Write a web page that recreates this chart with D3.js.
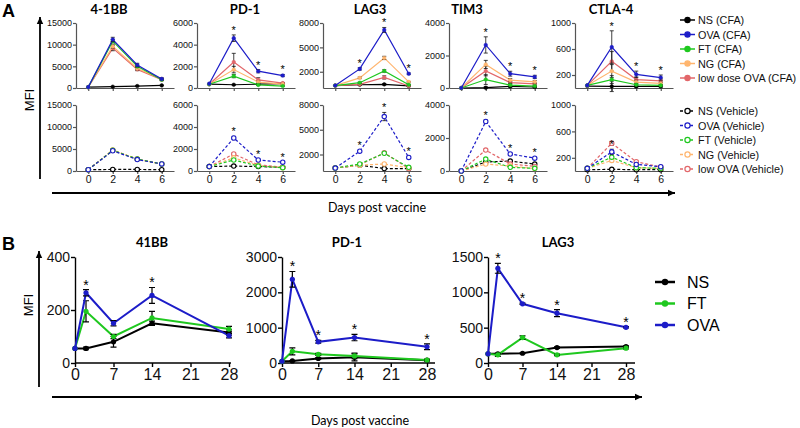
<!DOCTYPE html>
<html><head><meta charset="utf-8">
<script src="https://cdn.jsdelivr.net/npm/d3@7"></script>
<style>body{margin:0;background:#fff}svg{display:block}</style>
</head><body>
<svg id="c" width="800" height="428"></svg>
<script>
// ---------------- DATA ----------------
const daysA = [0, 2, 4, 6];
const seriesA = ["NS", "OVA", "FT", "NG", "low dose OVA"];
const legendCFA = ["NS (CFA)", "OVA (CFA)", "FT (CFA)", "NG (CFA)", "low dose OVA (CFA)"];
const legendVeh = ["NS (Vehicle)", "OVA (Vehicle)", "FT (Vehicle)", "NG (Vehicle)", "low OVA (Vehicle)"];
const titlesA = ["4-1BB", "PD-1", "LAG3", "TIM3", "CTLA-4"];
const ticks41BB = [0, 5000, 10000, 15000];
const ticksPD1 = [0, 2000, 4000, 6000];
const ticksLAG3 = [2000, 5000, 8000];
const ticksTIM3 = [0, 2000, 4000];
const ticksCTLA4 = [200, 600, 1000];

// values: [NS, OVA, FT, NG, low] x days
const cfa41BB = [[200,300,450,600],[200,11200,5300,2100],[200,10800,5000,1900],[200,9600,4500,2100],[200,9200,4300,1900]];
const cfa41BBErr = [[0,50,50,50],[0,500,400,200],[0,400,300,200],[0,400,300,200],[0,600,300,200]];
const veh41BB = [[300,350,350,300],[300,4600,2600,1600],[300,4700,2700,1600],[300,4800,2700,1600],[300,4700,2700,1600]];
const veh41BBErr = [[0,50,50,50],[0,200,150,100],[0,200,150,100],[0,200,150,100],[0,200,150,100]];

const cfaPD1 = [[350,300,350,400],[400,4600,1550,1150],[350,1100,280,180],[350,1700,550,350],[350,2400,750,450]];
const cfaPD1Err = [[0,30,30,30],[0,300,150,100],[0,150,50,30],[0,300,100,50],[0,800,200,50]];
const vehPD1 = [[400,450,400,350],[400,3000,1000,800],[400,1000,450,300],[400,1200,500,300],[400,1550,550,350]];
const vehPD1Err = [[0,30,30,30],[0,150,80,60],[0,80,40,30],[0,80,40,30],[0,80,40,30]];

const cfaLAG3 = [[300,400,450,250],[300,2350,7150,1750],[300,650,2100,400],[300,1250,3700,750],[300,450,1300,250]];
const cfaLAG3Err = [[0,50,80,30],[0,150,300,100],[0,80,150,50],[0,100,200,60],[0,60,200,40]];
const vehLAG3 = [[350,700,300,300],[350,2400,6600,1650],[350,850,2150,450],[350,700,850,400],[350,750,2200,300]];
const vehLAG3Err = [[0,60,40,30],[0,100,500,150],[0,80,120,50],[0,60,80,40],[0,60,120,40]];

const cfaTIM3 = [[0,20,100,60],[0,2650,880,680],[0,520,180,120],[0,1450,480,380],[0,1050,330,250]];
const cfaTIM3Err = [[0,60,50,40],[0,500,150,100],[0,300,100,50],[0,250,100,80],[0,300,100,60]];
const vehTIM3 = [[0,550,600,420],[0,3000,1030,780],[0,720,220,160],[0,420,300,150],[0,1270,420,280]];
const vehTIM3Err = [[0,40,40,30],[0,100,60,50],[0,60,40,30],[0,40,30,20],[0,60,40,30]];

const cfaCTLA4 = [[30,25,25,25],[40,630,210,160],[40,130,50,40],[40,260,90,70],[40,410,130,110]];
const cfaCTLA4Err = [[0,80,20,20],[0,250,50,40],[0,60,20,10],[0,100,30,20],[0,150,40,30]];
const vehCTLA4 = [[20,25,20,20],[40,290,100,65],[40,210,50,40],[40,160,50,40],[40,420,140,60]];
const vehCTLA4Err = [[0,10,10,10],[0,40,20,15],[0,20,10,10],[0,20,10,10],[0,30,20,10]];

const starsCfa = [[], [2,4,6], [2,4,6], [2,4,6], [2,4,6]];
const starsVeh = [[], [2,4,6], [2,4,6], [2,4,6], [2]];

// Panel B
const daysB = [0, 2, 7, 14, 28];
const seriesB = ["NS", "FT", "OVA"];
const titlesB = ["41BB", "PD-1", "LAG3"];
const ticksB41BB = [0, 200, 400];
const ticksBPD1 = [0, 1000, 2000, 3000];
const ticksBLAG3 = [0, 500, 1000, 1500];
const xTicksB = [0, 7, 14, 21, 28];
const b41BB = [[55,55,80,150,115],[55,195,100,170,128],[55,265,150,255,103]];
const b41BBErr = [[0,5,20,8,10],[0,40,8,25,10],[0,12,10,30,8]];
const bPD1 = [[50,60,130,160,80],[50,330,245,200,85],[50,2370,600,720,460]];
const bPD1Err = [[0,10,20,100,20],[0,100,30,80,20],[0,220,40,90,80]];
const bLAG3 = [[130,130,138,218,232],[130,115,360,115,210],[130,1340,838,705,505]];
const bLAG3Err = [[0,5,5,10,10],[0,20,25,10,10],[0,70,10,50,10]];
const starsB = [[2,14],[2,7,14,28],[2,7,14,28]];

// ---------------- STYLE / LAYOUT ----------------
const colorsA = ["#000000", "#1c1cc8", "#1fc81f", "#ffb56e", "#e2676a"];
const colorsB = ["#000000", "#1fc81f", "#1c1cc8"];
const ARIAL = "'Liberation Sans', Arial, sans-serif";
const CAL = "Lato, 'Open Sans', sans-serif";
const svg = d3.select("#c");

const panelsA = [
  {ticks: ticks41BB, cfa: cfa41BB, cfaE: cfa41BBErr, veh: veh41BB, vehE: veh41BBErr},
  {ticks: ticksPD1, cfa: cfaPD1, cfaE: cfaPD1Err, veh: vehPD1, vehE: vehPD1Err},
  {ticks: ticksLAG3, cfa: cfaLAG3, cfaE: cfaLAG3Err, veh: vehLAG3, vehE: vehLAG3Err},
  {ticks: ticksTIM3, cfa: cfaTIM3, cfaE: cfaTIM3Err, veh: vehTIM3, vehE: vehTIM3Err},
  {ticks: ticksCTLA4, cfa: cfaCTLA4, cfaE: cfaCTLA4Err, veh: vehCTLA4, vehE: vehCTLA4Err}
];
const x0A = [76, 197, 323, 449, 575];
const titleXA = [109, 245, 370, 467, 611];
const drawOrderA = [0, 4, 3, 2, 1];

function styleAxis(g, color, width) {
  g.select(".domain").attr("stroke", color).attr("stroke-width", width);
  g.selectAll(".tick line").attr("stroke", color).attr("stroke-width", width);
  g.selectAll(".tick text").attr("fill", "#111");
}

function drawA(p, i, row) {
  const x0 = x0A[i];
  const base = row === 0 ? 88 : 171, top = row === 0 ? 23 : 105;
  const x = d3.scaleLinear().domain([-1, 7]).range([x0, x0 + 98]);
  const y = d3.scaleLinear().domain([0, d3.max(p.ticks)]).range([base, top]);
  const vals = row === 0 ? p.cfa : p.veh;
  const errs = row === 0 ? p.cfaE : p.vehE;
  const g = svg.append("g");

  const ya = g.append("g").attr("transform", `translate(${x0},0)`)
    .call(d3.axisLeft(y).tickValues(p.ticks).tickSize(3).tickSizeOuter(0).tickPadding(1).tickFormat(d3.format("d")));
  ya.selectAll("text").attr("font-family", ARIAL).attr("font-size", 9);
  styleAxis(ya, "#555", 1.2);

  const xa = g.append("g").attr("transform", `translate(0,${base})`)
    .call(d3.axisBottom(x).tickValues(daysA).tickSize(3).tickSizeOuter(0).tickPadding(2));
  xa.selectAll("text").attr("font-family", ARIAL).attr("font-size", 10.5);
  if (row === 0) xa.selectAll("text").remove();
  styleAxis(xa, "#555", 1.2);

  const line = d3.line().x((d, j) => x(daysA[j])).y(d => y(d));
  drawOrderA.forEach(s => {
    const c = colorsA[s];
    g.append("path").datum(vals[s]).attr("d", line).attr("fill", "none")
      .attr("stroke", c).attr("stroke-width", 1.2)
      .attr("stroke-dasharray", row === 1 ? "3,2" : null);
    vals[s].forEach((v, j) => {
      const e = errs[s][j];
      if (e > 0) {
        const cx = x(daysA[j]);
        g.append("path").attr("d", `M${cx},${y(v - e)}V${y(v + e)}M${cx - 2},${y(v - e)}H${cx + 2}M${cx - 2},${y(v + e)}H${cx + 2}`)
          .attr("stroke", "#111").attr("stroke-width", 0.8).attr("fill", "none");
      }
    });
    g.selectAll(null).data(vals[s]).join("circle")
      .attr("cx", (d, j) => x(daysA[j])).attr("cy", d => y(d))
      .attr("r", row === 0 ? 1.8 : 2.2)
      .attr("fill", row === 0 ? c : "#fff").attr("stroke", c).attr("stroke-width", row === 0 ? 0.5 : 1.1);
  });

  const stars = row === 0 ? starsCfa[i] : starsVeh[i];
  stars.forEach(dd => {
    const j = daysA.indexOf(dd);
    const topV = vals[1][j] + errs[1][j];
    g.append("text").attr("x", x(dd)).attr("y", y(topV) - 7 + 6)
      .attr("text-anchor", "middle").attr("font-family", ARIAL).attr("font-size", 11).text("*");
  });

  if (row === 0) {
    svg.append("text").attr("x", titleXA[i]).attr("y", 14).attr("text-anchor", "middle")
      .attr("font-family", CAL).attr("font-weight", 700).attr("font-size", 13).text(titlesA[i]);
  }
}

panelsA.forEach((p, i) => { drawA(p, i, 0); drawA(p, i, 1); });

// Legends A
function legendA(labels, y0, dashed) {
  labels.forEach((t, k) => {
    const yy = y0 + k * 14.5;
    const c = colorsA[k];
    svg.append("line").attr("x1", 680).attr("x2", 695).attr("y1", yy).attr("y2", yy)
      .attr("stroke", c).attr("stroke-width", 1.5).attr("stroke-dasharray", dashed ? "3,2" : null);
    svg.append("circle").attr("cx", 687.5).attr("cy", yy).attr("r", 2.6)
      .attr("fill", dashed ? "#fff" : c).attr("stroke", c).attr("stroke-width", 1.2);
    svg.append("text").attr("x", 698).attr("y", yy + 4).attr("font-family", ARIAL).attr("font-size", 10.8)
      .attr("fill", "#111").text(t);
  });
}
legendA(legendCFA, 20, false);
legendA(legendVeh, 111, true);

// Arrows
function arrow(x1, y1, x2, y2) {
  svg.append("line").attr("x1", x1).attr("y1", y1).attr("x2", x2).attr("y2", y2)
    .attr("stroke", "#000").attr("stroke-width", 1.8);
  const ang = Math.atan2(y2 - y1, x2 - x1);
  const L = 7, W = 3.2;
  const bx = x2 - L * Math.cos(ang), by = y2 - L * Math.sin(ang);
  const px = -Math.sin(ang) * W, py = Math.cos(ang) * W;
  svg.append("path").attr("d", `M${x2},${y2}L${bx + px},${by + py}L${bx - px},${by - py}Z`).attr("fill", "#000");
}
arrow(40, 179, 40, 17);
arrow(52, 193, 675, 193);
arrow(39, 387, 39, 251);
arrow(52, 397, 642, 397);

// Labels
svg.append("text").attr("x", 2).attr("y", 17).attr("font-family", ARIAL).attr("font-weight", 700).attr("font-size", 18).text("A");
svg.append("text").attr("x", 2).attr("y", 250).attr("font-family", ARIAL).attr("font-weight", 700).attr("font-size", 18).text("B");
svg.append("text").attr("transform", "translate(34,100) rotate(-90)").attr("text-anchor", "middle")
  .attr("font-family", ARIAL).attr("font-size", 13).text("MFI");
svg.append("text").attr("transform", "translate(33,305) rotate(-90)").attr("text-anchor", "middle")
  .attr("font-family", ARIAL).attr("font-size", 13).text("MFI");
svg.append("text").attr("x", 377).attr("y", 212).attr("text-anchor", "middle")
  .attr("font-family", CAL).attr("font-size", 12.5).text("Days post vaccine");
svg.append("text").attr("x", 360).attr("y", 425).attr("text-anchor", "middle")
  .attr("font-family", CAL).attr("font-size", 12.5).text("Days post vaccine");

// ---------------- PANEL B ----------------
const panelsB = [
  {ticks: ticksB41BB, v: b41BB, e: b41BBErr},
  {ticks: ticksBPD1, v: bPD1, e: bPD1Err},
  {ticks: ticksBLAG3, v: bLAG3, e: bLAG3Err}
];
const xRangeB = [[75, 229], [282, 427], [488, 626]];
const axisEndB = [231, 435, 635];
const titleXB = [152, 347, 558];

panelsB.forEach((p, i) => {
  const [xa0, xa1] = xRangeB[i];
  const x = d3.scaleLinear().domain([0, 28]).range([xa0, xa1]);
  const y = d3.scaleLinear().domain([0, d3.max(p.ticks)]).range([363, 257]);
  const g = svg.append("g");
  const ya = g.append("g").attr("transform", `translate(${xa0},0)`)
    .call(d3.axisLeft(y).tickValues(p.ticks).tickSize(4).tickSizeOuter(0).tickPadding(1).tickFormat(d3.format("d")));
  ya.selectAll("text").attr("font-family", ARIAL).attr("font-size", 14);
  styleAxis(ya, "#000", 1.4);
  const xa = g.append("g").attr("transform", `translate(0,363)`)
    .call(d3.axisBottom(x).tickValues(xTicksB).tickSize(4).tickSizeOuter(0).tickPadding(2));
  xa.select(".domain").attr("d", `M${xa0},0H${axisEndB[i]}`);
  xa.selectAll("text").attr("font-family", ARIAL).attr("font-size", 16);
  styleAxis(xa, "#000", 1.4);

  const line = d3.line().x((d, j) => x(daysB[j])).y(d => y(d));
  p.v.forEach((vals, s) => {
    const c = colorsB[s];
    g.append("path").datum(vals).attr("d", line).attr("fill", "none").attr("stroke", c).attr("stroke-width", 2);
    vals.forEach((v, j) => {
      const e = p.e[s][j];
      if (e > 0) {
        const cx = x(daysB[j]);
        g.append("path").attr("d", `M${cx},${y(v - e)}V${y(v + e)}M${cx - 3},${y(v - e)}H${cx + 3}M${cx - 3},${y(v + e)}H${cx + 3}`)
          .attr("stroke", "#000").attr("stroke-width", 1.2).attr("fill", "none");
      }
    });
    g.selectAll(null).data(vals).join("circle")
      .attr("cx", (d, j) => x(daysB[j])).attr("cy", d => y(d)).attr("r", 2.6).attr("fill", c);
  });
  starsB[i].forEach(dd => {
    const j = daysB.indexOf(dd);
    const topV = p.v[2][j] + p.e[2][j];
    g.append("text").attr("x", x(dd)).attr("y", y(topV) - 8 + 8)
      .attr("text-anchor", "middle").attr("font-family", ARIAL).attr("font-size", 14).text("*");
  });
  svg.append("text").attr("x", titleXB[i]).attr("y", 247).attr("text-anchor", "middle")
    .attr("font-family", CAL).attr("font-weight", 700).attr("font-size", 13).text(titlesB[i]);
});

// Legend B
seriesB.forEach((t, k) => {
  const yy = 282 + k * 21.5;
  svg.append("line").attr("x1", 655).attr("x2", 675).attr("y1", yy).attr("y2", yy)
    .attr("stroke", colorsB[k]).attr("stroke-width", 2.5);
  svg.append("circle").attr("cx", 665).attr("cy", yy).attr("r", 3.2).attr("fill", colorsB[k]);
  svg.append("text").attr("x", 687).attr("y", yy + 5.5).attr("font-family", ARIAL).attr("font-size", 16).text(t);
});
</script>
</body></html>
